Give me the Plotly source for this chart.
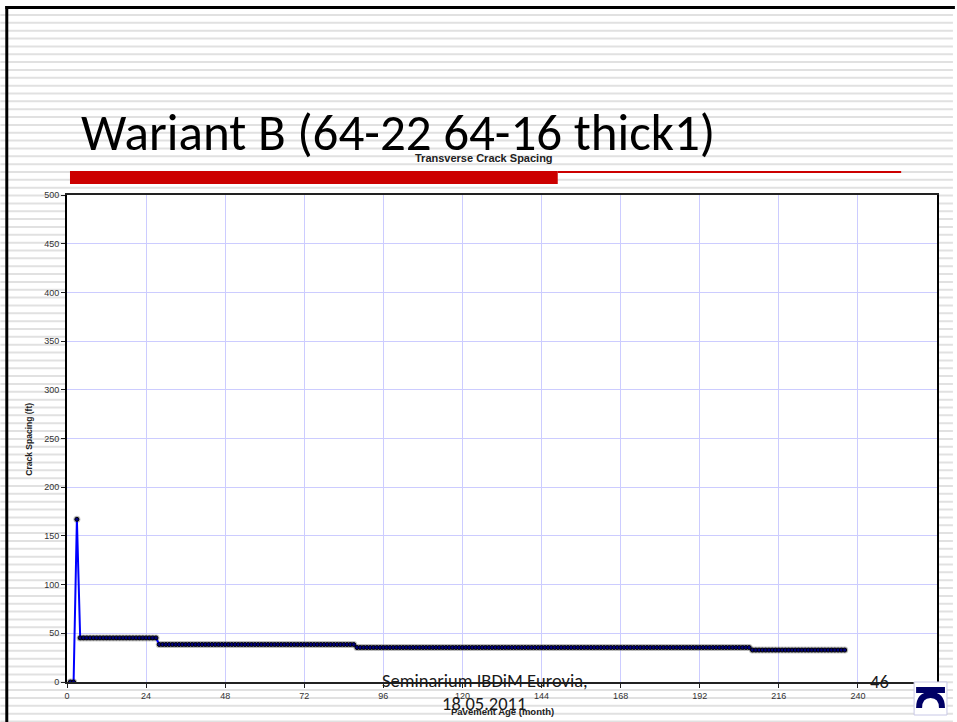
import plotly.graph_objects as go

# ---- data: transverse crack spacing by pavement age ----
months = list(range(1, 237))
spacing = (
    [0.0, 0.0, 167.0]            # months 1-3
    + [45.3] * (27 - 3)          # months 4-27
    + [38.5] * (87 - 27)         # months 28-87
    + [35.4] * (207 - 87)        # months 88-207
    + [32.8] * (236 - 207)       # months 208-236
)

x_ticks = list(range(0, 265, 24))
y_ticks = list(range(0, 501, 50))

slide_title = "Wariant B (64-22 64-16 thick1)"
chart_title = "Transverse Crack Spacing"
x_title = "Pavement Age (month)"
y_title = "Crack Spacing (ft)"
footer_lines = ["Seminarium IBDiM Eurovia,", "18.05.2011"]
page_no = "46"

# ---- page geometry (pixels) ----
W, H = 957, 722
L, R, T, B = 67, 941, 195, 682


def px(x):
    return (x - L) / (R - L)


def py(y):
    return (B - y) / (B - T)


def rect(x0, y0, x1, y1, fill, line=None, lw=0, layer="above"):
    return dict(type="rect", xref="paper", yref="paper",
                x0=px(x0), x1=px(x1), y0=py(y1), y1=py(y0),
                fillcolor=fill, line=dict(color=line or fill, width=lw),
                layer=layer)


shapes = []
# striped slide background
yy = 15.0
while yy < H:
    shapes.append(dict(type="line", xref="paper", yref="paper",
                       x0=px(0), x1=px(W), y0=py(yy), y1=py(yy),
                       line=dict(color="#e1e1e1", width=2), layer="below"))
    yy += 7.85
# white chart area over the stripes
shapes.append(rect(L, T, R, B, "white", layer="below"))
# slide frame
shapes.append(rect(5, 6, W + 2, 9, "black"))
shapes.append(rect(5, 6, 8, H + 2, "black"))
# red title underline
shapes.append(rect(70, 171, 560, 184, "#cc0000"))
shapes.append(rect(560, 171, 905, 173, "#cc0000"))
# logo in the corner
shapes.append(rect(918, 682, 951, 715, "white", line="#c8c8e6", lw=1))
shapes.append(rect(920, 687, 949, 693, "#000066"))
arch = dict(type="path", xref="paper", yref="paper",
            path=(f"M {px(923):.5f},{py(708):.5f} "
                  f"Q {px(923):.5f},{py(695):.5f} {px(934.5):.5f},{py(695):.5f} "
                  f"Q {px(946):.5f},{py(695):.5f} {px(946):.5f},{py(708):.5f}"),
            line=dict(color="#000066", width=6), layer="above")
shapes.append(arch)

fig = go.Figure()
# soft marker shadow
fig.add_trace(go.Scatter(
    x=months, y=spacing, mode="markers",
    marker=dict(size=7, color="rgba(110,110,110,0.45)", line=dict(width=0)),
    hoverinfo="skip", showlegend=False))
fig.add_trace(go.Scatter(
    x=months, y=spacing, mode="lines+markers",
    line=dict(color="#0000ff", width=2),
    marker=dict(size=4, color="#000080", line=dict(color="black", width=1)),
    showlegend=False))

tick_font = dict(family="Liberation Sans, Arial", size=9, color="#333333")

fig.update_xaxes(range=[0, 264], tickvals=x_ticks, ticktext=[str(v) for v in x_ticks],
                 showgrid=True, gridcolor="#ccccff", gridwidth=1,
                 showline=True, linecolor="#222222", linewidth=2, mirror=True,
                 ticks="outside", ticklen=4, tickcolor="#222222",
                 tickfont=tick_font, zeroline=False)
fig.update_yaxes(range=[0, 500], tickvals=y_ticks, ticktext=[str(v) for v in y_ticks],
                 showgrid=True, gridcolor="#ccccff", gridwidth=1,
                 showline=True, linecolor="black", linewidth=2, mirror=True,
                 ticks="outside", ticklen=4, tickcolor="#222222",
                 tickfont=tick_font, zeroline=False)

annotations = [
    dict(text=slide_title, x=px(79), y=py(132), xanchor="left", yanchor="middle",
         font=dict(family="Carlito, Lato", size=51, color="black")),
    dict(text=f"<b>{chart_title}</b>", x=px(486), y=py(158), xanchor="center", yanchor="middle",
         font=dict(family="Liberation Sans, Arial", size=11, color="#222222")),
    dict(text=f"<b>{x_title}</b>", x=px(505), y=py(711), xanchor="center", yanchor="middle",
         font=dict(family="Liberation Sans, Arial", size=9.5, color="#222222")),
    dict(text=f"<b>{y_title}</b>", x=px(28.5), y=py(439), xanchor="center", yanchor="middle",
         textangle=-90, font=dict(family="Liberation Sans, Arial", size=8.5, color="#222222")),
    dict(text=footer_lines[0], x=px(486.5), y=py(680), xanchor="center", yanchor="middle",
         font=dict(family="Carlito, Lato", size=18.5, color="#1a1a1a")),
    dict(text=footer_lines[1], x=px(485.5), y=py(703), xanchor="center", yanchor="middle",
         font=dict(family="Carlito, Lato", size=18.5, color="#1a1a1a")),
    dict(text=page_no, x=px(883), y=py(681), xanchor="center", yanchor="middle",
         font=dict(family="Carlito, Lato", size=18.5, color="#1a1a1a")),
]
for a in annotations:
    a.update(xref="paper", yref="paper", showarrow=False)

fig.update_layout(
    width=W, height=H,
    margin=dict(l=L, r=W - R, t=T, b=H - B, pad=0),
    paper_bgcolor="white", plot_bgcolor="white",
    shapes=shapes, annotations=annotations,
)

fig.write_html("out.html")
